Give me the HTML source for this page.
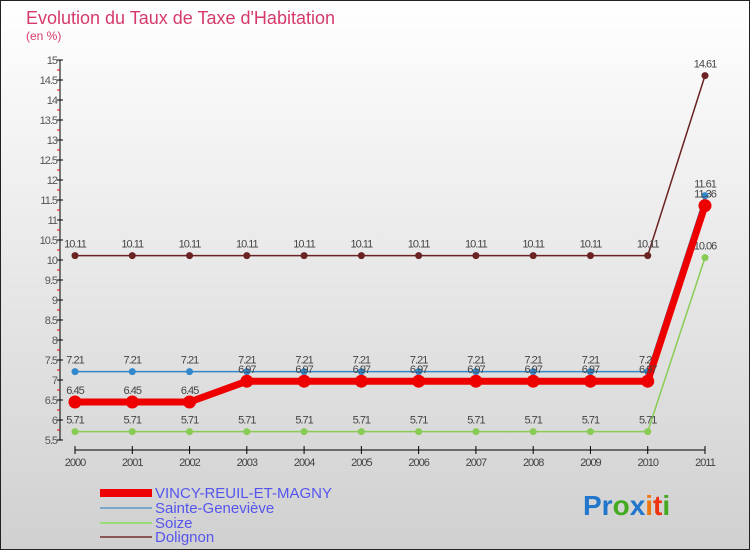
<!DOCTYPE html>
<html><head><meta charset="utf-8"><style>
body{margin:0;width:750px;height:550px;overflow:hidden;font-family:"Liberation Sans",sans-serif}
</style></head><body>
<svg width="750" height="550" xmlns="http://www.w3.org/2000/svg" id="svg">
<defs><linearGradient id="bg" x1="0" y1="0" x2="0" y2="1"><stop offset="0" stop-color="#ffffff"/><stop offset="1" stop-color="#d0d0d0"/></linearGradient></defs>
<rect x="0.5" y="0.5" width="749" height="549" fill="url(#bg)" stroke="#222"/>
<text x="26" y="24" font-size="18" fill="#d63a6a">Evolution du Taux de Taxe d'Habitation</text>
<text x="26" y="40" font-size="12" fill="#d63a6a">(en %)</text>
<g id="axes"></g><g id="series"></g>
<g font-size="15" fill="#5555ee">
<rect x="100" y="489" width="52" height="8" fill="#e00"/>
<text x="155" y="498">VINCY-REUIL-ET-MAGNY</text>
<rect x="100" y="507" width="52" height="2" fill="#7aa8cc"/>
<text x="155" y="513">Sainte-Geneviève</text>
<rect x="100" y="522" width="52" height="2" fill="#99dd77"/>
<text x="155" y="528">Soize</text>
<rect x="100" y="536" width="52" height="2" fill="#8a5555"/>
<text x="155" y="542">Dolignon</text>
</g>
<text x="583" y="515" font-size="28" font-weight="bold"><tspan fill="#2277cc">Pr</tspan><tspan fill="#44aa22">o</tspan><tspan fill="#2277cc">x</tspan><tspan fill="#ee7711">i</tspan><tspan fill="#ee3311">t</tspan><tspan fill="#44aa22">i</tspan></text>
</svg>
<script>
const years=[2000,2001,2002,2003,2004,2005,2006,2007,2008,2009,2010,2011];
const yTicks=[5.5,6,6.5,7,7.5,8,8.5,9,9.5,10,10.5,11,11.5,12,12.5,13,13.5,14,14.5,15];
const vincy=[6.45,6.45,6.45,6.97,6.97,6.97,6.97,6.97,6.97,6.97,6.97,11.36];
const sainte=[7.21,7.21,7.21,7.21,7.21,7.21,7.21,7.21,7.21,7.21,7.21,11.61];
const soize=[5.71,5.71,5.71,5.71,5.71,5.71,5.71,5.71,5.71,5.71,5.71,10.06];
const dolignon=[10.11,10.11,10.11,10.11,10.11,10.11,10.11,10.11,10.11,10.11,10.11,14.61];
const NS="http://www.w3.org/2000/svg";
const X=i=>75+i*(630/11), Y=v=>60+(15-v)*40;
function mk(p,t,a){const e=document.createElementNS(NS,t);for(const k in a)e.setAttribute(k,a[k]);p.appendChild(e);return e;}
const ax=document.getElementById('axes');
let l=mk(ax,'line',{x1:60,y1:Y(15),x2:60,y2:Y(5.5),stroke:'#000'});

yTicks.forEach(v=>{
 let t=mk(ax,'line',{x1:57,y1:Y(v),x2:63,y2:Y(v),stroke:'#000'});
 
 let m=mk(ax,'line',{x1:57,y1:Y(v)+10,x2:60,y2:Y(v)+10,stroke:'#e00'});
 if(v===5.5)m.remove();
 let s=mk(ax,'text',{x:57,y:Y(v)+4,'font-size':11,'text-anchor':'end',fill:'#555','letter-spacing':'-1'});
 s.textContent=String(v);
 
});
let xa=mk(ax,'line',{x1:X(0),y1:450,x2:X(11),y2:450,stroke:'#000'});

years.forEach((y,i)=>{
 mk(ax,'line',{x1:X(i),y1:446,x2:X(i),y2:454,stroke:'#000'});
 let s=mk(ax,'text',{x:X(i),y:466,'font-size':11,'text-anchor':'middle',fill:'#444','letter-spacing':'-1'});
 s.textContent=y;
 
});
const sg=document.getElementById('series');
function draw(name,vals,color,w,r){
 const g=mk(sg,'g',{});
 
 let pl=mk(g,'polyline',{points:vals.map((v,i)=>X(i)+','+Y(v)).join(' '),fill:'none',stroke:color,'stroke-width':w});
 
 vals.forEach((v,i)=>{
  let c=mk(g,'circle',{cx:X(i),cy:Y(v),r:r,fill:color});
  
  let t=mk(g,'text',{x:X(i),y:Y(v)-8,'font-size':11,'text-anchor':'middle',fill:'#444','letter-spacing':'-1'});
  t.textContent=String(v);
  
 });
}
draw('dolignon',dolignon,'#6a2222',1.5,3.5);
draw('soize',soize,'#88cc55',1.5,3.5);
draw('sainte',sainte,'#3388cc',1.5,3.5);
draw('vincy',vincy,'#ee0000',7,6.5);
</script>
</body></html>
